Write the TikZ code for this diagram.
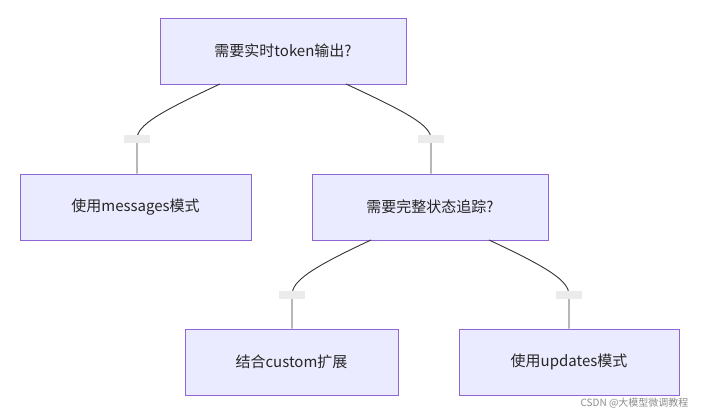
\documentclass[tikz,border=0pt]{standalone}
\usepackage{fontspec}
\setmainfont{Noto Sans CJK SC}
\begin{document}
\begin{tikzpicture}[x=1pt,y=-1pt,
 box/.style={draw=violet!55!blue!60,fill=blue!8,line width=1pt,minimum width=#1,minimum height=66pt,inner sep=0pt,font=\fontsize{15}{18}\selectfont,text=black!85},
 lbl/.style={fill=black!8,minimum width=26pt,minimum height=8pt,inner sep=0pt},
 edge/.style={draw=black!80,line width=0.9pt}]
\useasboundingbox (0,0) rectangle (702,416);
\node[box=246pt] (a) at (283,51) {需要实时token输出?};
\node[box=231pt] (b) at (135.5,207) {使用messages模式};
\node[box=236pt] (c) at (430,207) {需要完整状态追踪?};
\node[box=213pt] (d) at (291.5,362) {结合custom扩展};
\node[box=220pt] (e) at (569,362) {使用updates模式};
\node[lbl] (l1) at (137,139) {};
\node[lbl] (l2) at (431,139) {};
\node[lbl] (l3) at (292,295) {};
\node[lbl] (l4) at (569,295) {};
\coordinate (a1) at (220,84); \coordinate (a2) at (346,84);
\coordinate (c1) at (371,240); \coordinate (c2) at (489,240);
\draw[edge] (a1) .. controls (160,112) and (137,125) .. (l1.center) -- (b.north -| l1);
\draw[edge] (a2) .. controls (406,112) and (431,125) .. (l2.center) -- (c.north -| l2);
\draw[edge] (c1) .. controls (311,268) and (292,281) .. (l3.center) -- (d.north -| l3);
\draw[edge] (c2) .. controls (549,268) and (569,281) .. (l4.center) -- (e.north -| l4);
\node[lbl] at (137,139) {}; \node[lbl] at (431,139) {};
\node[lbl] at (292,295) {}; \node[lbl] at (569,295) {};
\node[anchor=east,text=black!45,font=\fontsize{10}{12}\selectfont] (w) at (692,403) {CSDN @大模型微调教程};
\end{tikzpicture}
\end{document}
